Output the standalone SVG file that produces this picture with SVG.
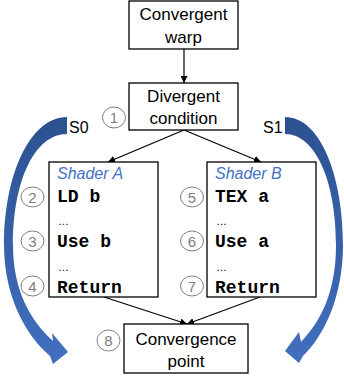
<svg xmlns="http://www.w3.org/2000/svg" width="344" height="379" viewBox="0 0 344 379">
  <style>
    .box { fill: #ffffff; stroke: #000000; stroke-width: 1.3; }
    .lbl { font-family: "Liberation Sans", Arial, sans-serif; font-size: 17px; fill: #000000; text-anchor: middle; }
    .side { font-family: "Liberation Sans", Arial, sans-serif; font-size: 16px; fill: #000000; }
    .title { font-family: "Liberation Sans", Arial, sans-serif; font-size: 16px; font-style: italic; fill: #4472c4; }
    .code { font-family: "Liberation Mono", "Courier New", monospace; font-size: 18px; font-weight: bold; fill: #000000; }
    .dots { font-family: "Liberation Sans", Arial, sans-serif; font-size: 11px; fill: #000000; }
    .step ellipse { fill: none; stroke: #7f7f7f; stroke-width: 1; }
    .step text { font-family: "Liberation Sans", Arial, sans-serif; font-size: 15px; fill: #7f7f7f; text-anchor: middle; }
    .conn { stroke: #000000; stroke-width: 1.2; fill: none; marker-end: url(#head); }
  </style>
  <defs>
    <marker id="head" viewBox="0 0 10 10" refX="10" refY="5" markerWidth="7" markerHeight="7" markerUnits="userSpaceOnUse" orient="auto">
      <path d="M0,0 L10,5 L0,10 Z" fill="#000000"/>
    </marker>
    <linearGradient id="blue" x1="0" y1="0" x2="0" y2="1">
      <stop offset="0" stop-color="#2c5190"/>
      <stop offset="1" stop-color="#4170c0"/>
    </linearGradient>
  </defs>

  <!-- thread paths S0 / S1 -->
  <g id="path-s0">
    <path d="M67,117 C30,117 4,175 4,245 C4,295 25,335 50,356 L53,364 L68,352 L52,333 L53,341 C30,320 13,290 13,245 C13,180 35,134 67,134 Z" fill="url(#blue)"/>
    <text class="side" x="69" y="133">S0</text>
  </g>
  <g id="path-s1">
    <path d="M285,117 C320,117 343,175 343,245 C343,295 325,335 303,356 L299,363 L285,351 L299,332 L301,342 C322,320 336,290 336,245 C336,180 315,134 285,134 Z" fill="url(#blue)"/>
    <text class="side" x="263" y="133">S1</text>
  </g>

  <!-- connectors -->
  <g id="connectors">
    <line class="conn" x1="184" y1="49" x2="184" y2="83"/>
    <line class="conn" x1="184" y1="130" x2="108" y2="162"/>
    <line class="conn" x1="184" y1="130" x2="261" y2="162"/>
    <line class="conn" x1="104" y1="297" x2="187" y2="324"/>
    <line class="conn" x1="260" y1="297" x2="187" y2="324"/>
  </g>

  <g id="convergent-warp">
    <rect class="box" x="129" y="1" width="109" height="48"/>
    <text class="lbl" x="183.5" y="20">Convergent</text>
    <text class="lbl" x="183.5" y="43">warp</text>
  </g>

  <g id="divergent-condition">
    <rect class="box" x="129" y="83" width="109" height="47"/>
    <text class="lbl" x="183.5" y="102">Divergent</text>
    <text class="lbl" x="183.5" y="124">condition</text>
  </g>

  <g id="shader-a">
    <rect class="box" x="49" y="162" width="109" height="135"/>
    <text class="title" x="57" y="179">Shader A</text>
    <text class="code" x="57" y="202">LD b</text>
    <text class="dots" x="58" y="225">…</text>
    <text class="code" x="57" y="247">Use b</text>
    <text class="dots" x="58" y="271">…</text>
    <text class="code" x="57" y="293">Return</text>
  </g>

  <g id="shader-b">
    <rect class="box" x="207" y="162" width="109" height="135"/>
    <text class="title" x="215" y="179">Shader B</text>
    <text class="code" x="215" y="202">TEX a</text>
    <text class="dots" x="216" y="225">…</text>
    <text class="code" x="215" y="247">Use a</text>
    <text class="dots" x="216" y="271">…</text>
    <text class="code" x="215" y="293">Return</text>
  </g>

  <g id="convergence-point">
    <rect class="box" x="124" y="324" width="124" height="49"/>
    <text class="lbl" x="186" y="345">Convergence</text>
    <text class="lbl" x="186" y="367">point</text>
  </g>

  <!-- step markers -->
  <g id="steps" class="step">
    <g id="step-1"><ellipse cx="114" cy="117.5" rx="11.5" ry="10.5"/><text x="114" y="123">1</text></g>
    <g id="step-2"><ellipse cx="32.5" cy="197" rx="11.5" ry="10"/><text x="32.5" y="202.5">2</text></g>
    <g id="step-3"><ellipse cx="32.5" cy="241" rx="11.5" ry="10"/><text x="32.5" y="246.5">3</text></g>
    <g id="step-4"><ellipse cx="32.5" cy="286" rx="11.5" ry="10"/><text x="32.5" y="291.5">4</text></g>
    <g id="step-5"><ellipse cx="192" cy="197" rx="11.5" ry="10"/><text x="192" y="202.5">5</text></g>
    <g id="step-6"><ellipse cx="192" cy="241" rx="11.5" ry="10"/><text x="192" y="246.5">6</text></g>
    <g id="step-7"><ellipse cx="192" cy="286" rx="11.5" ry="10"/><text x="192" y="291.5">7</text></g>
    <g id="step-8"><ellipse cx="108.5" cy="340.5" rx="11.5" ry="10.5"/><text x="108.5" y="346">8</text></g>
  </g>
</svg>
